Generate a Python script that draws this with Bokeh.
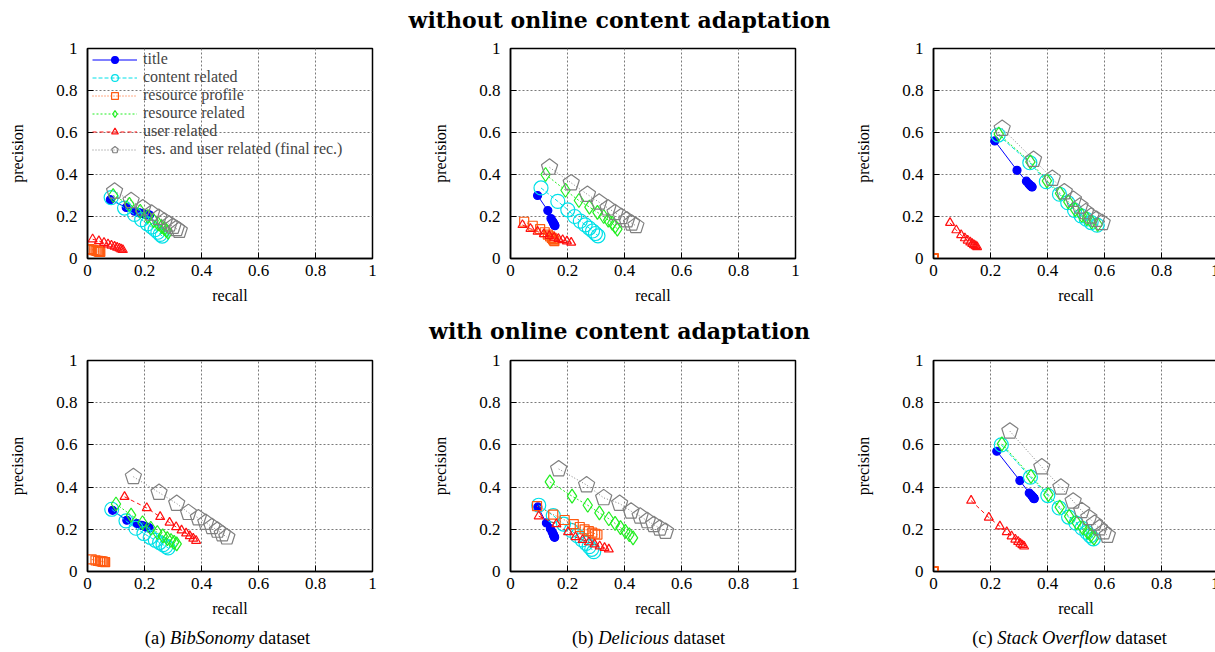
from bokeh.plotting import figure
from bokeh.models import Div, Legend, LegendItem, FixedTicker, Range1d, ColumnDataSource
from bokeh.layouts import column, row
from bokeh.embed import file_html
from bokeh.resources import INLINE

# ---------------- data ----------------
series_names = ["title", "content related", "resource profile", "resource related",
                "user related", "res. and user related (final rec.)"]
tick_values = [0, 0.2, 0.4, 0.6, 0.8, 1]
tick_labels = ["0", "0.2", "0.4", "0.6", "0.8", "1"]
row_titles = ["without online content adaptation", "with online content adaptation"]
captions = [("(a)", "BibSonomy", "dataset"), ("(b)", "Delicious", "dataset"),
            ("(c)", "Stack Overflow", "dataset")]

# each entry: (recall list, precision list)
bib_without = {
    "title": ([0.08, 0.136, 0.165, 0.18, 0.19, 0.198, 0.205, 0.21, 0.214, 0.218],
              [0.28, 0.243, 0.225, 0.218, 0.215, 0.212, 0.21, 0.209, 0.208, 0.207]),
    "content related": ([0.083, 0.13, 0.165, 0.19, 0.21, 0.225, 0.237, 0.247, 0.255, 0.262],
                        [0.29, 0.24, 0.21, 0.185, 0.165, 0.15, 0.137, 0.125, 0.115, 0.107]),
    "resource profile": ([0.006, 0.015, 0.022, 0.028, 0.032, 0.036, 0.039, 0.041, 0.043, 0.045],
                         [0.045, 0.042, 0.04, 0.038, 0.036, 0.035, 0.034, 0.033, 0.032, 0.032]),
    "resource related": ([0.09, 0.147, 0.185, 0.212, 0.232, 0.248, 0.26, 0.27, 0.277, 0.283],
                         [0.3, 0.258, 0.225, 0.2, 0.18, 0.165, 0.152, 0.142, 0.133, 0.125]),
    "user related": ([0.018, 0.04, 0.058, 0.072, 0.084, 0.095, 0.104, 0.112, 0.118, 0.124],
                     [0.092, 0.083, 0.075, 0.068, 0.062, 0.057, 0.052, 0.048, 0.044, 0.041]),
    "res. and user related (final rec.)": ([0.095, 0.153, 0.194, 0.225, 0.25, 0.27, 0.287, 0.3, 0.312, 0.322],
                                           [0.32, 0.275, 0.24, 0.215, 0.195, 0.178, 0.163, 0.152, 0.142, 0.133]),
}
del_without = {
    "title": ([0.095, 0.131, 0.142, 0.147, 0.15, 0.152, 0.153, 0.154, 0.155, 0.156],
              [0.30, 0.228, 0.19, 0.178, 0.172, 0.167, 0.163, 0.16, 0.158, 0.156]),
    "content related": ([0.107, 0.166, 0.201, 0.225, 0.245, 0.262, 0.276, 0.288, 0.298, 0.307],
                        [0.336, 0.272, 0.232, 0.2, 0.178, 0.16, 0.145, 0.131, 0.119, 0.108]),
    "resource profile": ([0.048, 0.078, 0.104, 0.12, 0.131, 0.139, 0.145, 0.149, 0.152, 0.154],
                         [0.175, 0.156, 0.14, 0.125, 0.114, 0.105, 0.098, 0.092, 0.087, 0.083]),
    "resource related": ([0.123, 0.193, 0.24, 0.277, 0.305, 0.327, 0.343, 0.357, 0.367, 0.375],
                         [0.40, 0.325, 0.276, 0.245, 0.22, 0.2, 0.183, 0.168, 0.153, 0.14]),
    "user related": ([0.042, 0.07, 0.095, 0.117, 0.136, 0.153, 0.168, 0.183, 0.198, 0.213],
                     [0.16, 0.142, 0.128, 0.117, 0.108, 0.1, 0.094, 0.088, 0.082, 0.076]),
    "res. and user related (final rec.)": ([0.137, 0.213, 0.27, 0.311, 0.342, 0.367, 0.389, 0.408, 0.425, 0.44],
                                           [0.434, 0.36, 0.305, 0.268, 0.24, 0.218, 0.199, 0.183, 0.168, 0.156]),
}
so_without = {
    "title": ([0.215, 0.293, 0.326, 0.334, 0.338, 0.341, 0.343, 0.344, 0.345, 0.346],
              [0.56, 0.42, 0.368, 0.356, 0.35, 0.346, 0.344, 0.343, 0.342, 0.341]),
    "content related": ([0.227, 0.338, 0.396, 0.442, 0.471, 0.495, 0.518, 0.536, 0.553, 0.574],
                        [0.588, 0.456, 0.366, 0.306, 0.266, 0.229, 0.203, 0.187, 0.171, 0.159]),
    "resource profile": ([0.0, 0.0, 0.0, 0.0, 0.0, 0.0, 0.0, 0.0, 0.0, 0.0],
                         [0.0, 0.0, 0.0, 0.0, 0.0, 0.0, 0.0, 0.0, 0.0, 0.0]),
    "resource related": ([0.229, 0.34, 0.398, 0.444, 0.473, 0.497, 0.52, 0.538, 0.555, 0.576],
                         [0.592, 0.46, 0.37, 0.31, 0.27, 0.233, 0.206, 0.19, 0.174, 0.162]),
    "user related": ([0.058, 0.08, 0.097, 0.11, 0.12, 0.129, 0.136, 0.142, 0.148, 0.153],
                     [0.17, 0.135, 0.112, 0.097, 0.086, 0.077, 0.07, 0.064, 0.059, 0.055]),
    "res. and user related (final rec.)": ([0.241, 0.351, 0.417, 0.459, 0.491, 0.514, 0.534, 0.553, 0.572, 0.592],
                                           [0.619, 0.471, 0.381, 0.317, 0.281, 0.249, 0.222, 0.201, 0.186, 0.17]),
}
bib_with = {
    "title": ([0.088, 0.138, 0.173, 0.19, 0.2, 0.206, 0.21, 0.213, 0.215, 0.216],
              [0.29, 0.243, 0.227, 0.219, 0.214, 0.211, 0.209, 0.208, 0.207, 0.206]),
    "content related": ([0.085, 0.135, 0.17, 0.198, 0.22, 0.238, 0.253, 0.265, 0.275, 0.283],
                        [0.295, 0.24, 0.205, 0.18, 0.162, 0.148, 0.137, 0.127, 0.119, 0.112]),
    "resource profile": ([0.015, 0.028, 0.037, 0.044, 0.049, 0.053, 0.056, 0.059, 0.061, 0.062],
                         [0.057, 0.053, 0.05, 0.049, 0.048, 0.047, 0.046, 0.045, 0.045, 0.044]),
    "resource related": ([0.10, 0.153, 0.193, 0.222, 0.245, 0.264, 0.28, 0.293, 0.304, 0.313],
                         [0.32, 0.267, 0.231, 0.205, 0.185, 0.169, 0.156, 0.147, 0.138, 0.131]),
    "user related": ([0.13, 0.208, 0.255, 0.288, 0.311, 0.33, 0.346, 0.359, 0.371, 0.381],
                     [0.354, 0.301, 0.259, 0.232, 0.211, 0.195, 0.181, 0.168, 0.156, 0.146]),
    "res. and user related (final rec.)": ([0.161, 0.251, 0.313, 0.354, 0.389, 0.415, 0.437, 0.456, 0.473, 0.489],
                                           [0.449, 0.374, 0.322, 0.279, 0.254, 0.232, 0.212, 0.195, 0.178, 0.163]),
}
del_with = {
    "title": ([0.096, 0.126, 0.14, 0.146, 0.149, 0.151, 0.152, 0.153, 0.154, 0.155],
              [0.306, 0.23, 0.203, 0.188, 0.18, 0.174, 0.17, 0.166, 0.164, 0.162]),
    "content related": ([0.099, 0.15, 0.186, 0.213, 0.234, 0.251, 0.265, 0.276, 0.285, 0.292],
                        [0.314, 0.265, 0.225, 0.195, 0.17, 0.15, 0.133, 0.118, 0.105, 0.094]),
    "resource profile": ([0.093, 0.15, 0.19, 0.222, 0.243, 0.26, 0.275, 0.287, 0.297, 0.305],
                         [0.31, 0.27, 0.244, 0.225, 0.211, 0.2, 0.191, 0.184, 0.179, 0.175]),
    "resource related": ([0.138, 0.216, 0.271, 0.312, 0.345, 0.367, 0.386, 0.403, 0.417, 0.43],
                         [0.425, 0.357, 0.314, 0.278, 0.25, 0.228, 0.208, 0.19, 0.174, 0.159]),
    "user related": ([0.099, 0.161, 0.202, 0.228, 0.253, 0.275, 0.295, 0.313, 0.33, 0.345],
                     [0.262, 0.225, 0.187, 0.163, 0.15, 0.139, 0.129, 0.12, 0.112, 0.105]),
    "res. and user related (final rec.)": ([0.169, 0.267, 0.327, 0.383, 0.423, 0.455, 0.48, 0.503, 0.524, 0.544],
                                           [0.486, 0.41, 0.349, 0.322, 0.286, 0.262, 0.24, 0.222, 0.205, 0.19]),
}
so_with = {
    "title": ([0.222, 0.303, 0.336, 0.343, 0.347, 0.35, 0.351, 0.352, 0.353, 0.353],
              [0.57, 0.431, 0.372, 0.362, 0.356, 0.352, 0.349, 0.347, 0.346, 0.345]),
    "content related": ([0.238, 0.34, 0.401, 0.441, 0.474, 0.5, 0.521, 0.538, 0.55, 0.561],
                        [0.6, 0.447, 0.36, 0.301, 0.258, 0.229, 0.205, 0.185, 0.169, 0.155]),
    "resource profile": ([0.0, 0.0, 0.0, 0.0, 0.0, 0.0, 0.0, 0.0, 0.0, 0.0],
                         [0.0, 0.0, 0.0, 0.0, 0.0, 0.0, 0.0, 0.0, 0.0, 0.0]),
    "resource related": ([0.24, 0.342, 0.403, 0.443, 0.476, 0.502, 0.523, 0.54, 0.552, 0.563],
                         [0.605, 0.451, 0.364, 0.305, 0.261, 0.232, 0.208, 0.188, 0.172, 0.158]),
    "user related": ([0.132, 0.194, 0.233, 0.257, 0.274, 0.287, 0.297, 0.305, 0.312, 0.318],
                     [0.336, 0.256, 0.214, 0.187, 0.167, 0.152, 0.141, 0.132, 0.125, 0.119]),
    "res. and user related (final rec.)": ([0.268, 0.38, 0.447, 0.49, 0.52, 0.545, 0.565, 0.582, 0.597, 0.61],
                                           [0.665, 0.495, 0.399, 0.333, 0.288, 0.255, 0.228, 0.206, 0.187, 0.171]),
}

# ---------------- styles ----------------
STYLE = {
    "title": dict(color="#0000ff", dash="solid", marker="circle", size=8, filled=True),
    "content related": dict(color="#00e0e8", dash="4 2", marker="circle", size=14, filled=False),
    "resource profile": dict(color="#ff5a10", dash="1 2", marker="square", size=9, filled=False),
    "resource related": dict(color="#22ee22", dash="2 2", marker="diamond", size=14, filled=False),
    "user related": dict(color="#ff1010", dash="4 3", marker="triangle", size=9, filled=False),
    "res. and user related (final rec.)": dict(color="#808080", dash="1 2", marker="pentagon", size=17, filled=False),
}

SERIF = "Liberation Serif"
FRAME_W = 285


def make_panel(data, right_border, frame_h, legend=False):
    p = figure(frame_width=FRAME_W, frame_height=frame_h,
               x_range=Range1d(0, 1), y_range=Range1d(0, 1),
               output_backend="svg", toolbar_location=None,
               min_border_left=79, min_border_right=right_border,
               min_border_top=16, min_border_bottom=53,
               background_fill_color="white", border_fill_color="white")
    p.outline_line_color = "black"
    p.outline_line_width = 1.5
    p.outline_line_alpha = 1
    for ax in (p.xaxis[0], p.yaxis[0]):
        ax.ticker = FixedTicker(ticks=tick_values)
        ax.major_label_overrides = dict(zip(tick_values, tick_labels))
        ax.major_tick_in = 6
        ax.major_tick_out = 0
        ax.minor_tick_in = 0
        ax.minor_tick_out = 0
        ax.axis_line_color = "black"
        ax.axis_line_width = 1.5
        ax.major_tick_line_color = "black"
        ax.major_label_text_font = SERIF
        ax.major_label_text_font_size = "17px"
        ax.major_label_text_color = "black"
        ax.axis_label_text_font = SERIF
        ax.axis_label_text_font_size = "16px"
        ax.axis_label_text_font_style = "normal"
        ax.axis_label_text_color = "black"
    p.xaxis.axis_label = "recall"
    p.yaxis.axis_label = "precision"
    p.xaxis.major_label_standoff = 6
    p.xaxis.axis_label_standoff = 8
    p.yaxis.major_label_standoff = 10
    p.yaxis.axis_label_standoff = 27
    p.grid.grid_line_color = "#7a7a7a"
    p.grid.grid_line_dash = "2 2"
    p.grid.grid_line_width = 1

    items = []
    for name in series_names:
        r_vals, p_vals = data[name]
        st = STYLE[name]
        src = ColumnDataSource(dict(r=r_vals, p=p_vals))
        lr = p.line("r", "p", source=src, line_color=st["color"], line_width=1,
                    line_dash=st["dash"])
        if st["marker"] == "pentagon":
            try:
                mr = p.ngon(x="r", y="p", source=src, radius=st["size"] / 2,
                            radius_units="screen", n=5, fill_color=None,
                            line_color=st["color"], line_width=1.2)
            except Exception:
                mr = p.scatter("r", "p", source=src, marker="hex", size=st["size"],
                               fill_color=None, line_color=st["color"], line_width=1.2)
        else:
            mr = p.scatter("r", "p", source=src, marker=st["marker"], size=st["size"],
                           fill_color=st["color"] if st["filled"] else None,
                           line_color=st["color"], line_width=1.2)
        items.append(LegendItem(label=name, renderers=[lr, mr]))
    if legend:
        lg = Legend(items=items, location=(3, 98),
                    background_fill_alpha=0, border_line_alpha=0,
                    label_text_font=SERIF, label_text_font_size="16px",
                    glyph_width=45, glyph_height=17, label_height=17,
                    spacing=0, padding=2, margin=0, label_standoff=6)
        p.add_layout(lg)
    return p


def title_div(text, h, pad_top, lh):
    return Div(text=f'<div style="width:1207px;height:{h}px;padding-top:{pad_top}px;line-height:{lh}px;'
                    f'text-align:center;padding-left:20px;box-sizing:border-box;'
                    f'font-family:\'DejaVu Serif\';font-weight:bold;font-size:22px;color:black;">'
                    f'{text}</div>', width=1207, height=h, margin=0)


def caption_div(cap, w):
    a, b, c = cap
    return Div(text=f'<div style="margin-left:79px;width:285px;height:28px;line-height:28px;'
                    f'text-align:center;font-family:\'{SERIF}\';font-size:18.5px;color:black;">'
                    f'{a} <i>{b}</i> {c}</div>', width=w, height=28, margin=0)


top = [make_panel(bib_without, 57, 210, legend=True),
       make_panel(del_without, 57, 210),
       make_panel(so_without, 1, 210)]
bottom = [make_panel(bib_with, 57, 211),
          make_panel(del_with, 57, 211),
          make_panel(so_with, 1, 211)]

layout = column(
    title_div(row_titles[0], 24, 0, 24),
    row(*top, spacing=0),
    title_div(row_titles[1], 33, 7, 26),
    row(*bottom, spacing=0),
    row(caption_div(captions[0], 421), caption_div(captions[1], 421),
        caption_div(captions[2], 365), spacing=0),
    spacing=0,
    margin=(8, 0, 0, 6),
)

open("out.html", "w").write(file_html(layout, INLINE))
